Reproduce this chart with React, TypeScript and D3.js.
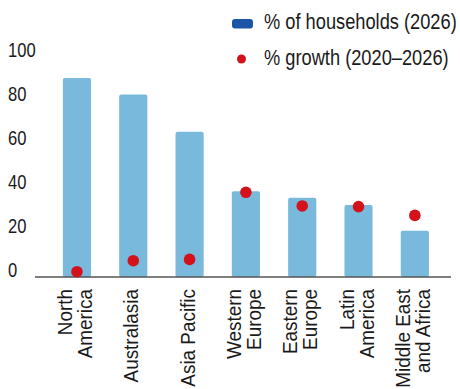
import React from "react";
import * as d3 from "d3";

const categories: string[][] = [
  ["North", "America"],
  ["Australasia"],
  ["Asia Pacific"],
  ["Western", "Europe"],
  ["Eastern", "Europe"],
  ["Latin", "America"],
  ["Middle East", "and Africa"],
];
const households: number[] = [90.5, 83, 66, 39, 36, 32.7, 21];
const growth: number[] = [2.4, 7.4, 8, 38.5, 32.3, 32, 28];
const yTicks: number[] = [0, 20, 40, 60, 80, 100];
const legendLabels: string[] = ["% of households (2026)", "% growth (2020–2026)"];

const W = 460;
const H = 389;
const FONT = "'Liberation Sans', Arial, sans-serif";
const BAR = "#79b9db";
const DOT = "#d3121c";
const LEG_BLUE = "#1c55a6";
const TEXT = "#1a1a1a";

export default function App() {
  const keys = categories.map((c) => c.join(" "));
  const x = d3.scaleBand<string>().domain(keys).range([48.8, 443]).paddingInner(0.5).paddingOuter(0.25);
  const y = d3.scaleLinear().domain([0, 100]).range([277, 57]);
  const bw = x.bandwidth();
  const lineH = 20;
  const labelTop = 289;

  return (
    <svg width={W} height={H} style={{ position: "absolute", left: 0, top: 0, background: "#fff" }} fontFamily={FONT}>
      {/* y tick labels */}
      {yTicks.map((t) => (
        <text key={t} transform={`translate(8,${y(t)}) scale(0.85,1)`} fontSize={19.5} fill={TEXT} textAnchor="start">
          {t}
        </text>
      ))}
      {/* bars */}
      {keys.map((k, i) => (
        <rect key={k} x={x(k)} y={y(households[i])} width={bw} height={y(0) - y(households[i])} fill={BAR} rx={2} />
      ))}
      {/* axis line */}
      <line x1={35} x2={451} y1={y(0)} y2={y(0)} stroke="#555" strokeWidth={1.5} />
      {/* dots */}
      {keys.map((k, i) => (
        <circle key={k} cx={(x(k) as number) + bw / 2} cy={y(growth[i])} r={5.8} fill={DOT} />
      ))}
      {/* category labels */}
      {categories.map((lines, i) => {
        const cx = (x(keys[i]) as number) + bw / 2;
        const n = lines.length;
        return lines.map((ln, j) => {
          const bx = cx + (j - (n - 1) / 2) * lineH + 5;
          return (
            <text
              key={keys[i] + j}
              transform={`translate(${bx},${labelTop}) rotate(-90) scale(0.9,1)`}
              textAnchor="end"
              fontSize={21}
              fill={TEXT}
            >
              {ln}
            </text>
          );
        });
      })}
      {/* legend */}
      <rect x={232} y={19} width={21} height={9.5} rx={3} fill={LEG_BLUE} />
      <text transform="translate(264,29) scale(0.83,1)" fontSize={22} fill={TEXT}>
        {legendLabels[0]}
      </text>
      <circle cx={241.5} cy={59} r={4.5} fill={DOT} />
      <text transform="translate(264,65) scale(0.83,1)" fontSize={22} fill={TEXT}>
        {legendLabels[1]}
      </text>
    </svg>
  );
}
